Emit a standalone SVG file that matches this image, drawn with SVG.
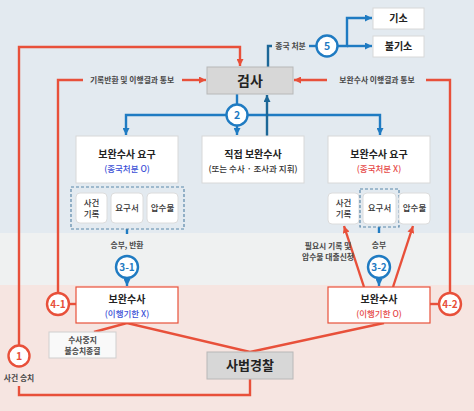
<svg xmlns="http://www.w3.org/2000/svg" width="474" height="411" viewBox="0 0 474 411">
<style>
text{font-family:"Noto Sans CJK KR","Noto Sans",sans-serif;text-anchor:middle;fill:#333}
.t{font-size:10px;font-weight:700;fill:#222}
.s{font-size:8.5px;font-weight:500}
.l{font-size:7.8px;font-weight:700;fill:#484848}
.big{font-size:14px;font-weight:700;fill:#222}
.box{fill:#fff;stroke:#d8d8d8;stroke-width:1}
.sub{fill:#fff;stroke:#dcdcdc;stroke-width:1}
.gray{fill:#d7d7d7;stroke:#b8b8b8;stroke-width:1}
.rbox{fill:#fff;stroke:#e8503a;stroke-width:1.2}
.dash{fill:none;stroke:#5a87aa;stroke-width:1.2;stroke-dasharray:3 2}
.red{fill:none;stroke:#e8503a;stroke-width:2.4}
.blue{fill:none;stroke:#1f7bc2;stroke-width:2.4}
.dblue{fill:none;stroke:#1c6797;stroke-width:2.4}
.cb{fill:#fff;stroke:#1f7bc2;stroke-width:2.4}
.cr{fill:#fff;stroke:#e8503a;stroke-width:2.4}
.nb{font-size:10.5px;font-weight:700;fill:#1f7bc2}
.nr{font-size:10.5px;font-weight:700;fill:#e8503a}
</style>
<defs>
<marker id="ar" viewBox="0 0 10 10" refX="10" refY="5" markerWidth="7" markerHeight="7" orient="auto" markerUnits="userSpaceOnUse"><path d="M0,0 L10,5 L0,10 z" fill="#e8503a"/></marker>
<marker id="ab" viewBox="0 0 10 10" refX="10" refY="5" markerWidth="7" markerHeight="7" orient="auto" markerUnits="userSpaceOnUse"><path d="M0,0 L10,5 L0,10 z" fill="#1f7bc2"/></marker>
<marker id="ad" viewBox="0 0 10 10" refX="10" refY="5" markerWidth="7" markerHeight="7" orient="auto" markerUnits="userSpaceOnUse"><path d="M0,0 L10,5 L0,10 z" fill="#1c6797"/></marker>
</defs>
<rect x="0" y="0" width="474" height="233" fill="#e3eaf0"/>
<rect x="0" y="233" width="474" height="52" fill="#eff1f1"/>
<rect x="0" y="285" width="474" height="126" fill="#f6e5e1"/>

<g id="connectors">
<path class="red" d="M250,379 V395 H19 V386"/>
<path class="red" d="M19,345 V47 H240 V66" marker-end="url(#ar)"/>
<path class="red" d="M58,293 V80 H83"/>
<path class="red" d="M182,80 H206" marker-end="url(#ar)"/>
<path class="red" d="M69,304 H76"/>
<path class="red" d="M450,293 V80 H426"/>
<path class="red" d="M327,80 H294" marker-end="url(#ar)"/>
<path class="red" d="M430,304 H439"/>
<path class="red" d="M94,332 L127,323 L250,352 L384,323"/>
<path class="red" d="M364,287 L344,226" marker-end="url(#ar)"/>
<path class="red" d="M393,287 L413,226" marker-end="url(#ar)"/>
<path class="blue" d="M237,94 V104"/>
<path class="blue" d="M237,115 H126 V135" marker-end="url(#ab)"/>
<path class="blue" d="M237,115 H380 V135" marker-end="url(#ab)"/>
<path class="blue" d="M237,126 V135" marker-end="url(#ab)"/>
<path class="dblue" d="M267,136 V95" marker-end="url(#ad)"/>
<path class="dblue" d="M268,67 V46 H272"/>
<path class="blue" d="M309,46 H316"/>
<path class="blue" d="M338,46 H347 V18 H372" marker-end="url(#ab)"/>
<path class="blue" d="M347,46 H372" marker-end="url(#ab)"/>
<path class="blue" d="M127,229 V234"/>
<path class="blue" d="M127,278 V286" marker-end="url(#ab)"/>
<path class="blue" d="M379,227 V233"/>
<path class="blue" d="M379,278 V286" marker-end="url(#ab)"/>
</g>

<g id="labels">
<text class="l" x="132" y="83">기록반환 및 이행결과 통보</text>
<text class="l" x="377" y="83">보완수사 이행결과 통보</text>
<text class="l" x="290.5" y="49">종국 처분</text>
<text class="l" x="127" y="248">송부, 반환</text>
<text class="l" x="379" y="248">송부</text>
<text class="l" x="328" y="249">필요시 기록 및</text>
<text class="l" x="328" y="260">압수물 대출신청</text>
<text class="l" x="19" y="381">사건 송치</text>
</g>

<g id="n-giso"><rect class="box" x="373" y="8" width="51" height="21"/><text class="t" x="398.5" y="22">기소</text></g>
<g id="n-bulgiso"><rect class="box" x="373" y="36" width="51" height="21"/><text class="t" x="398.5" y="50">불기소</text></g>
<g id="n-geomsa"><rect class="gray" x="207" y="67" width="86" height="27"/><text class="big" x="250" y="86">검사</text></g>

<g id="n-req-left"><rect class="box" x="76" y="136" width="102" height="47"/><text class="t" x="127" y="158">보완수사 요구</text><text class="s" x="127" y="172" style="fill:#3b4fd6">(종국처분 O)</text></g>
<g id="n-direct"><rect class="box" x="202" y="136" width="102" height="47"/><text class="t" x="253" y="158">직접 보완수사</text><text class="s" x="253" y="172">(또는 수사 · 조사과 지휘)</text></g>
<g id="n-req-right"><rect class="box" x="328" y="136" width="102" height="47"/><text class="t" x="379" y="158">보완수사 요구</text><text class="s" x="379" y="172" style="fill:#e64a4a">(종국처분 X)</text></g>

<g id="n-docs-left">
<rect class="dash" x="71" y="187" width="113" height="42"/>
<rect class="sub" x="76" y="193" width="31" height="30" rx="4"/><text class="s" x="91.5" y="206">사건</text><text class="s" x="91.5" y="217">기록</text>
<rect class="sub" x="111" y="193" width="32" height="30" rx="4"/><text class="s" x="127" y="211">요구서</text>
<rect class="sub" x="147" y="193" width="31" height="30" rx="4"/><text class="s" x="162.5" y="211">압수물</text>
</g>
<g id="n-docs-right">
<rect class="sub" x="328" y="193" width="31" height="31" rx="4"/><text class="s" x="343.5" y="206">사건</text><text class="s" x="343.5" y="217">기록</text>
<rect class="sub" x="363" y="193" width="33" height="31" rx="4"/><text class="s" x="379.5" y="211">요구서</text>
<rect class="dash" x="360" y="189" width="39" height="38"/>
<rect class="sub" x="399" y="193" width="31" height="31" rx="4"/><text class="s" x="414.5" y="211">압수물</text>
</g>

<g id="n-inv-left"><rect class="rbox" x="76" y="287" width="102" height="36"/><text class="t" x="127" y="303">보완수사</text><text class="s" x="127" y="317" style="fill:#3b4fd6">(이행기한 X)</text></g>
<g id="n-inv-right"><rect class="rbox" x="328" y="287" width="102" height="36"/><text class="t" x="379" y="303">보완수사</text><text class="s" x="379" y="317" style="fill:#e64a4a">(이행기한 O)</text></g>
<g id="n-stop"><rect x="49" y="332" width="67" height="26" fill="#f9f9f9" stroke="#cfcfcf"/><text class="l" x="82.5" y="343">수사중지</text><text class="l" x="82.5" y="354">불송치종결</text></g>
<g id="n-police"><rect class="gray" x="207" y="352" width="86" height="27"/><text class="big" x="250" y="370" style="font-size:13px">사법경찰</text></g>

<g id="c1"><circle class="cr" cx="19" cy="356" r="10.5"/><text class="nr" x="19" y="360">1</text></g>
<g id="c2"><circle class="cb" cx="237" cy="115" r="10.5"/><text class="nb" x="237" y="119">2</text></g>
<g id="c5"><circle class="cb" cx="327" cy="46" r="10.5"/><text class="nb" x="327" y="50">5</text></g>
<g id="c31"><circle class="cb" cx="127" cy="267" r="11"/><text class="nb" x="127" y="271" style="font-size:10px">3-1</text></g>
<g id="c32"><circle class="cb" cx="379" cy="267" r="11"/><text class="nb" x="379" y="271" style="font-size:10px">3-2</text></g>
<g id="c41"><circle class="cr" cx="58" cy="304" r="11"/><text class="nr" x="58" y="308" style="font-size:10px">4-1</text></g>
<g id="c42"><circle class="cr" cx="450" cy="304" r="11"/><text class="nr" x="450" y="308" style="font-size:10px">4-2</text></g>
</svg>
